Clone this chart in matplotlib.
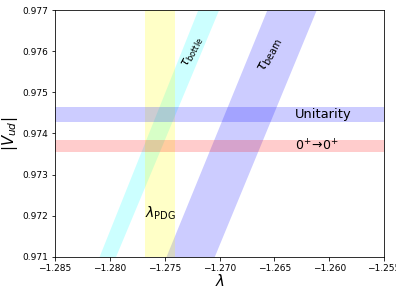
import matplotlib
matplotlib.use("Agg")
import matplotlib.pyplot as plt

vud_ends = [0.971, 0.977]
# lambda at the band edges, for Vud = 0.971 and 0.977
bottle_lo = [-1.2810, -1.2720]
bottle_hi = [-1.2795, -1.2701]
beam_lo = [-1.2749, -1.2657]
beam_hi = [-1.2705, -1.2612]
pdg = [-1.2768, -1.2741]
unitarity = [0.97428, 0.97464]
superallowed = [0.97356, 0.97384]

fig = plt.figure(figsize=(5.5, 4), dpi=72)
ax = fig.add_axes([0.139, 0.108, 0.831, 0.857])

ax.fill_betweenx(vud_ends, bottle_lo, bottle_hi, color='cyan', alpha=0.2, lw=0)
ax.fill_betweenx(vud_ends, beam_lo, beam_hi, color='blue', alpha=0.2, lw=0)
ax.axvspan(pdg[0], pdg[1], color='yellow', alpha=0.22, lw=0)
ax.axhspan(unitarity[0], unitarity[1], color='blue', alpha=0.2, lw=0)
ax.axhspan(superallowed[0], superallowed[1], color='red', alpha=0.2, lw=0)

ax.text(-1.2724, 0.97598, r'$\tau_{\rm bottle}$', rotation=62, fontsize=12,
        ha='center', va='center')
ax.text(-1.2654, 0.97591, r'$\tau_{\rm beam}$', rotation=62, fontsize=14,
        ha='center', va='center')
ax.text(-1.26056, 0.97446, 'Unitarity', fontsize=13, ha='center', va='center')
ax.text(-1.2611, 0.97370, r'$0^{+}\!\rightarrow\!0^{+}$', fontsize=12.5,
        ha='center', va='center')
ax.text(-1.2754, 0.97207, r'$\lambda_{\rm PDG}$', fontsize=14, ha='center', va='center')

ax.set_xlim(-1.285, -1.255)
ax.set_ylim(0.971, 0.977)
ax.set_xticks([-1.285, -1.28, -1.275, -1.27, -1.265, -1.26, -1.255])
ax.set_yticks([0.971, 0.972, 0.973, 0.974, 0.975, 0.976, 0.977])
ax.tick_params(labelsize=9)
ax.set_xlabel(r'$\lambda$', fontsize=15, labelpad=0)
ax.set_ylabel(r'$|V_{ud}|$', fontsize=15, labelpad=2)

fig.savefig('out.png', dpi=72)
